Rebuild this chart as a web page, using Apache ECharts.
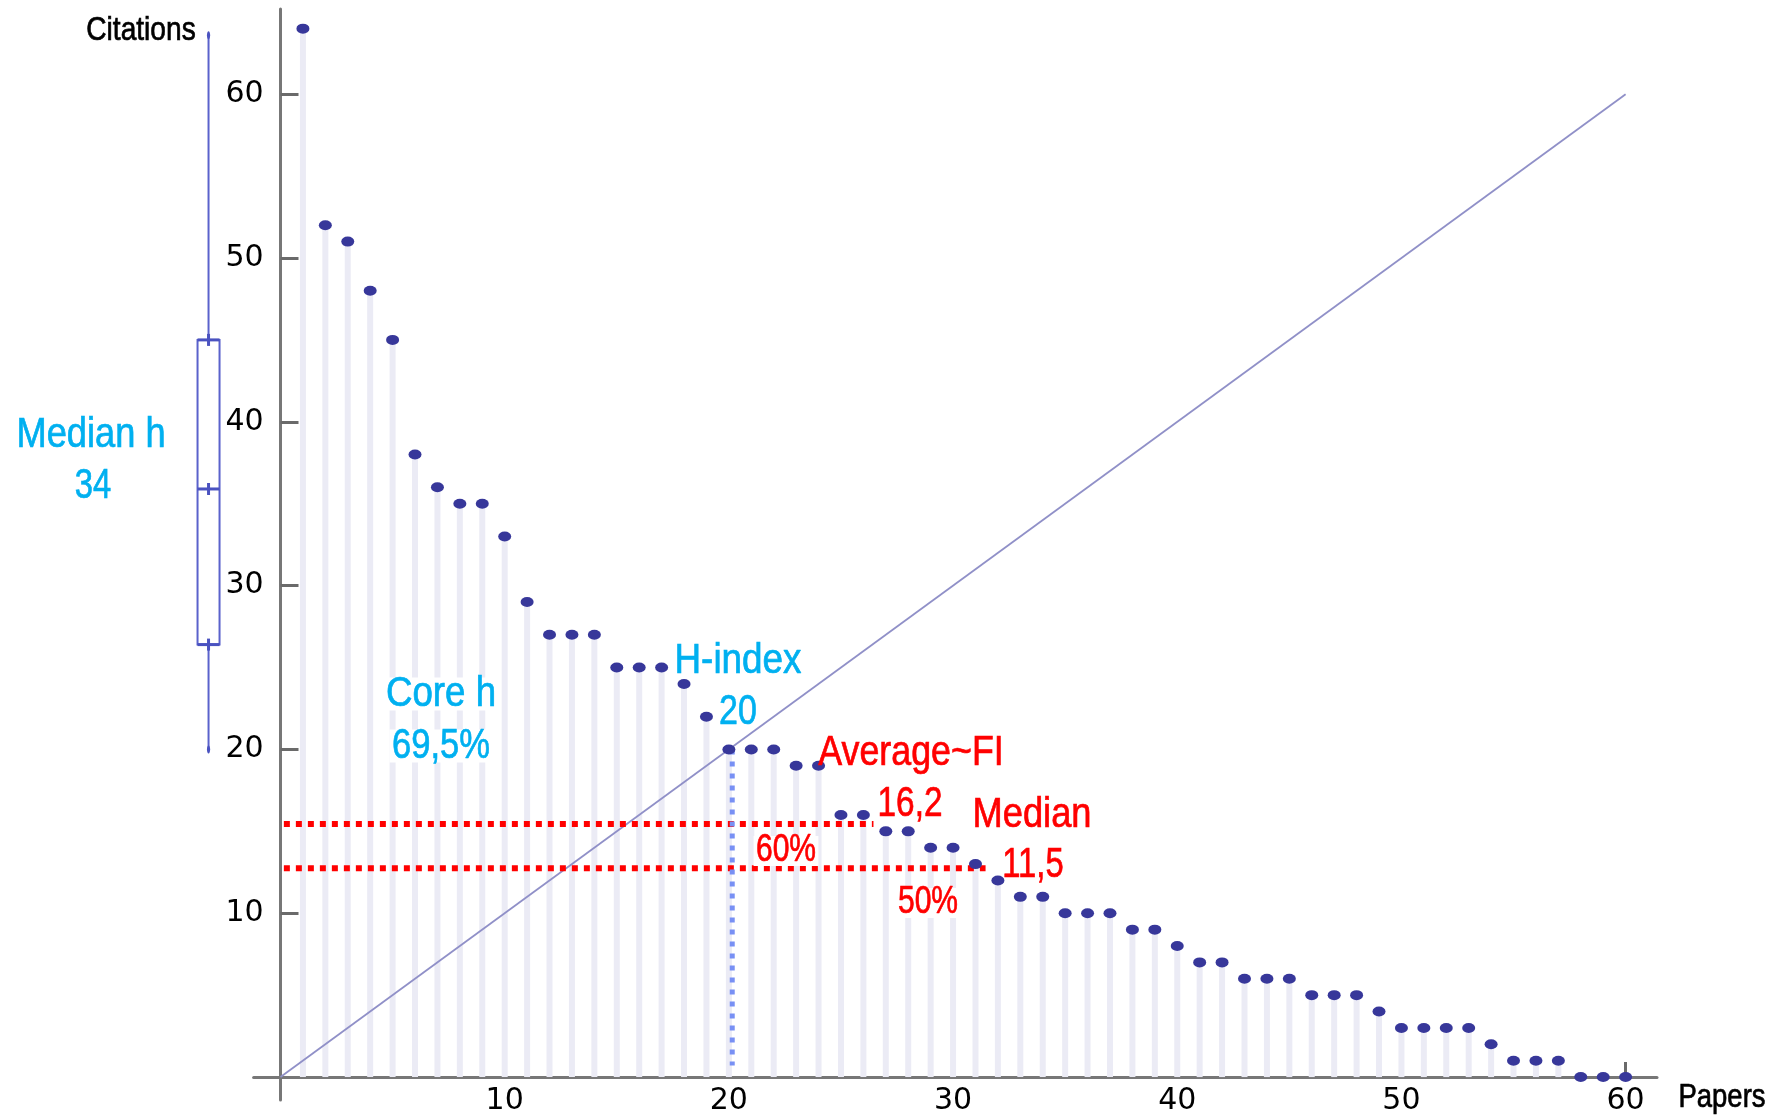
<!DOCTYPE html>
<html>
<head>
<meta charset="utf-8">
<title>Citations per paper</title>
<script src="https://cdn.jsdelivr.net/npm/echarts@6.0.0/dist/echarts.min.js"></script>
<style>
html, body { margin: 0; padding: 0; background: #fff; }
#chart { width: 1780px; height: 1115px; }
</style>
</head>
<body>
<div id="chart"></div>
<script>
// papers ranked by citations
var papers = [1, 2, 3, 4, 5, 6, 7, 8, 9, 10, 11, 12, 13, 14, 15, 16, 17, 18, 19, 20,
  21, 22, 23, 24, 25, 26, 27, 28, 29, 30, 31, 32, 33, 34, 35, 36, 37, 38, 39, 40,
  41, 42, 43, 44, 45, 46, 47, 48, 49, 50, 51, 52, 53, 54, 55, 56, 57, 58, 59, 60]
var citations = [64, 52, 51, 48, 45, 38, 36, 35, 35, 33, 29, 27, 27, 27, 25, 25, 25, 24, 22, 20,
  20, 20, 19, 19, 16, 16, 15, 15, 14, 14, 13, 12, 11, 11, 10, 10, 10, 9, 9, 8,
  7, 7, 6, 6, 6, 5, 5, 5, 4, 3, 3, 3, 3, 2, 1, 1, 1, 0, 0, 0]
var tickValues = [10, 20, 30, 40, 50, 60]

// reference lines
var diagonal = [[0, 0], [60, 60]]
var hIndexDrop = [[20.15, 20], [20.15, 0.7]]
var line60 = [[0.15, 15.45], [26.45, 15.45]]
var line50 = [[0.15, 12.75], [31.45, 12.75]]

// median h box: min, q1, median, q3, max
var medianHBox = [[20, 26.4, 35.9, 45, 63.6]]

var BOX_X = -3.21
var SANS = "'Liberation Sans', Arial, sans-serif"
var CYAN = '#00b0f0'
var RED = '#ff0000'

var chart = echarts.init(document.getElementById('chart'))

// texts are squeezed horizontally to look like the narrow face of the original
function note(text, x, y, color, size, sx, boxed) {
  var style = {
    text: text,
    fill: color,
    stroke: color,
    lineWidth: 0.7,
    font: size + 'px ' + SANS,
    textAlign: 'center',
    textVerticalAlign: 'middle'
  }
  if (boxed) {
    // white patch behind the glyphs hides the stems, as in the original
    style.backgroundColor = '#fff'
    style.padding = [0, 3]
    style.lineHeight = Math.round(size * 0.78)
  }
  return { type: 'text', x: x, y: y, scaleX: sx, z: 10, style: style }
}

function boxItem(params, api) {
  var xm = api.coord([BOX_X, 0])[0]
  var yMin = api.coord([BOX_X, api.value(0)])[1]
  var yQ1 = api.coord([BOX_X, api.value(1)])[1]
  var yMed = api.coord([BOX_X, api.value(2)])[1]
  var yQ3 = api.coord([BOX_X, api.value(3)])[1]
  var yMax = api.coord([BOX_X, api.value(4)])[1]
  var half = 11
  var thin = { stroke: '#5a62cc', lineWidth: 2, fill: null }
  var thick = { stroke: '#4a52c0', lineWidth: 3 }
  function hline(y, st) {
    return { type: 'line', shape: { x1: xm - half, y1: y, x2: xm + half, y2: y }, style: st }
  }
  function tip(y) {
    return { type: 'ellipse', shape: { cx: xm, cy: y, rx: 1.6, ry: 4 }, style: { fill: '#4a52c0' } }
  }
  function cross(y) {
    return { type: 'line', shape: { x1: xm, y1: y - 6, x2: xm, y2: y + 6 }, style: { stroke: '#4a52c0', lineWidth: 3 } }
  }
  return {
    type: 'group',
    children: [
      { type: 'line', shape: { x1: xm, y1: yMax, x2: xm, y2: yQ3 }, style: thin },
      { type: 'line', shape: { x1: xm, y1: yQ1, x2: xm, y2: yMin }, style: thin },
      { type: 'rect', shape: { x: xm - half, y: yQ3, width: half * 2, height: yQ1 - yQ3 }, style: thin },
      hline(yQ3, thick),
      hline(yQ1, thick),
      hline(yMed, thick),
      cross(yQ3), cross(yQ1), cross(yMed),
      tip(yMax), tip(yMin)
    ]
  }
}

var points = papers.map(function (p, i) { return [p, citations[i]] })

var option = {
  animation: false,
  backgroundColor: '#fff',
  grid: { left: 253.6, right: 123, top: 9, bottom: 15, containLabel: false, outerBoundsMode: 'none' },
  xAxis: {
    type: 'value',
    min: -1.2,
    max: 61.4,
    splitLine: { show: false },
    axisLine: { onZero: true, lineStyle: { color: '#777', width: 3 } },
    axisTick: { inside: true, length: 15, customValues: tickValues, lineStyle: { color: '#6a6a6a', width: 3 } },
    // labels are laid out from the grid edge, not from the zero line
    axisLabel: { customValues: tickValues, margin: -14, fontFamily: 'DejaVu Sans', fontSize: 30, color: '#000' }
  },
  yAxis: {
    type: 'value',
    min: -1.4,
    max: 65.2,
    splitLine: { show: false },
    axisLine: { onZero: true, lineStyle: { color: '#777', width: 3 } },
    axisTick: { inside: true, length: 18, customValues: tickValues, lineStyle: { color: '#6a6a6a', width: 3 } },
    axisLabel: { customValues: tickValues, margin: -10, fontFamily: 'DejaVu Sans', fontSize: 30, color: '#000' }
  },
  series: [
    {
      type: 'bar',
      data: points,
      barWidth: 6,
      itemStyle: { color: '#ebebf5' },
      silent: true,
      z: 1
    },
    {
      type: 'line',
      data: diagonal,
      symbol: 'none',
      lineStyle: { color: '#9090c8', width: 1.8 },
      silent: true,
      z: 2
    },
    {
      type: 'line',
      data: line60,
      symbol: 'none',
      lineStyle: { color: RED, width: 6, type: [6, 6], cap: 'butt' },
      silent: true,
      z: 3
    },
    {
      type: 'line',
      data: line50,
      symbol: 'none',
      lineStyle: { color: RED, width: 6, type: [6, 6], cap: 'butt' },
      silent: true,
      z: 3
    },
    {
      type: 'line',
      data: hIndexDrop,
      symbol: 'none',
      lineStyle: { color: '#7890f4', width: 5, type: [5, 7], cap: 'butt' },
      silent: true,
      z: 3
    },
    {
      type: 'scatter',
      data: points,
      symbolSize: [13, 10],
      itemStyle: { color: '#37379a', opacity: 1 },
      z: 5
    },
    {
      type: 'custom',
      dimensions: ['min', 'q1', 'median', 'q3', 'max'],
      encode: { x: 0, y: 1 },
      data: medianHBox,
      clip: false,
      silent: true,
      renderItem: boxItem,
      z: 4
    }
  ],
  graphic: [
    note('Citations', 141, 31, '#000', 33.5, 0.84),
    note('Papers', 1722, 1098, '#000', 33.5, 0.82),
    note('Median h', 91, 435, CYAN, 42, 0.863),
    note('34', 93, 486, CYAN, 42, 0.78),
    note('Core h', 441, 694, CYAN, 42, 0.873, true),
    note('69,5%', 441, 746, CYAN, 42, 0.823, true),
    note('H-index', 738, 661, CYAN, 42, 0.878),
    note('20', 738, 712, CYAN, 42, 0.81),
    note('Average~FI', 911, 753, RED, 42, 0.853),
    note('16,2', 910, 804, RED, 42, 0.795),
    note('Median', 1032, 815, RED, 42, 0.864),
    note('11,5', 1033, 865, RED, 42, 0.78),
    note('60%', 786, 851, RED, 38, 0.79, true),
    note('50%', 928, 903, RED, 38, 0.79, true)
  ]
}

chart.setOption(option)
</script>
</body>
</html>
